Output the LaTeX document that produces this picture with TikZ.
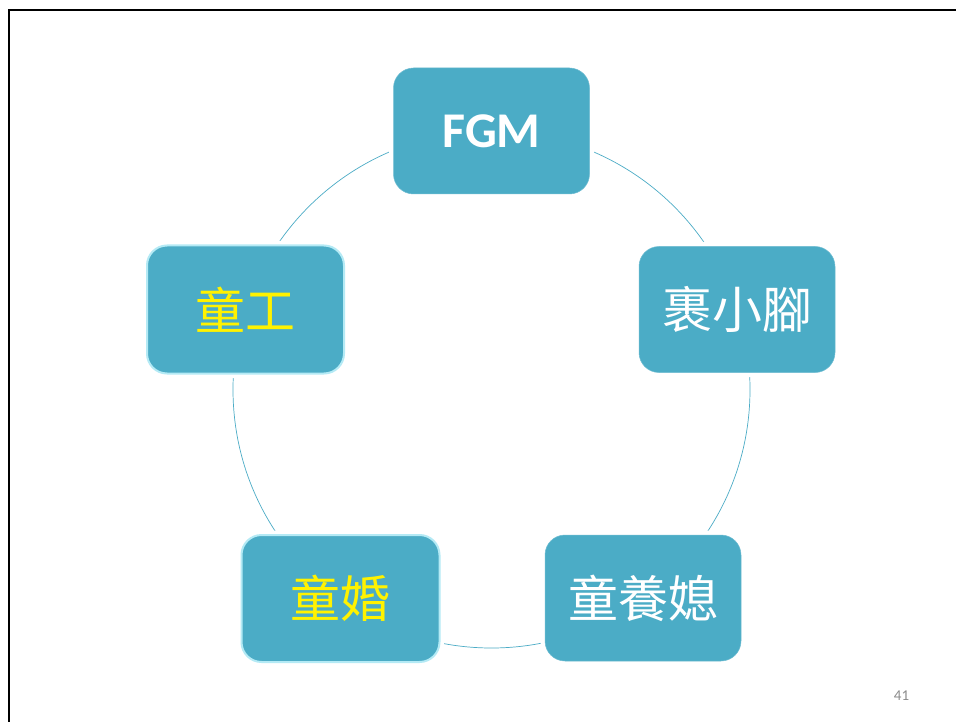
\documentclass[tikz,border=0pt]{standalone}
\usepackage{fontspec}
\setmainfont{Carlito}
\newfontfamily\cjk{Noto Sans CJK TC}
\definecolor{boxfill}{HTML}{4BACC6}
\definecolor{boxedge}{HTML}{6FBDD2}
\definecolor{bevel}{HTML}{B4EAF5}
\definecolor{ringcol}{HTML}{4BACC6}
\definecolor{pagenum}{HTML}{8C8C8C}
\begin{document}
\begin{tikzpicture}[x=1pt,y=-1pt,
  cyclebox/.style={rectangle, rounded corners=20pt, fill=boxfill, draw=boxedge, line width=0.5pt,
    minimum width=196pt, minimum height=126pt, inner sep=0pt,
    preaction={draw=white, line width=9pt}},
  bevelbox/.style={cyclebox, draw=bevel, line width=2pt},
  cjktext/.style={font=\cjk\fontsize{50}{56}\selectfont},
  fgmtext/.style={font=\bfseries\fontsize{50}{56}\selectfont, text=white},
  ring/.style={draw=ringcol, line width=0.7pt}]
\useasboundingbox (0,0) rectangle (956,722);
\fill[white] (0,0) rectangle (956,722);
% slide frame
\draw[line width=2.2pt, black] (9,722) -- (9,10) -- (956,10);
% ring
\coordinate (ctr) at (491.5,389.5);
\draw[ring] (ctr) circle (258.5pt);
% boxes
\node[cyclebox, fgmtext] (fgm) at (491.5,131) {FGM};
\node[cyclebox, cjktext, text=white] (foot) at (737,309.5) {裹小腳};
\node[cyclebox, cjktext, text=white] (bride) at (643,598) {童養媳};
\node[bevelbox, cjktext, text=yellow, minimum width=198pt, minimum height=127pt] (marry) at (340.5,598.5) {童婚};
\node[bevelbox, cjktext, text=yellow, minimum width=197pt, minimum height=128pt] (labour) at (245.5,309.5) {童工};
% page number
\node[text=pagenum, font=\fontsize{15}{18}\selectfont] (pg) at (901.5,695.5) {41};
\end{tikzpicture}
\end{document}
